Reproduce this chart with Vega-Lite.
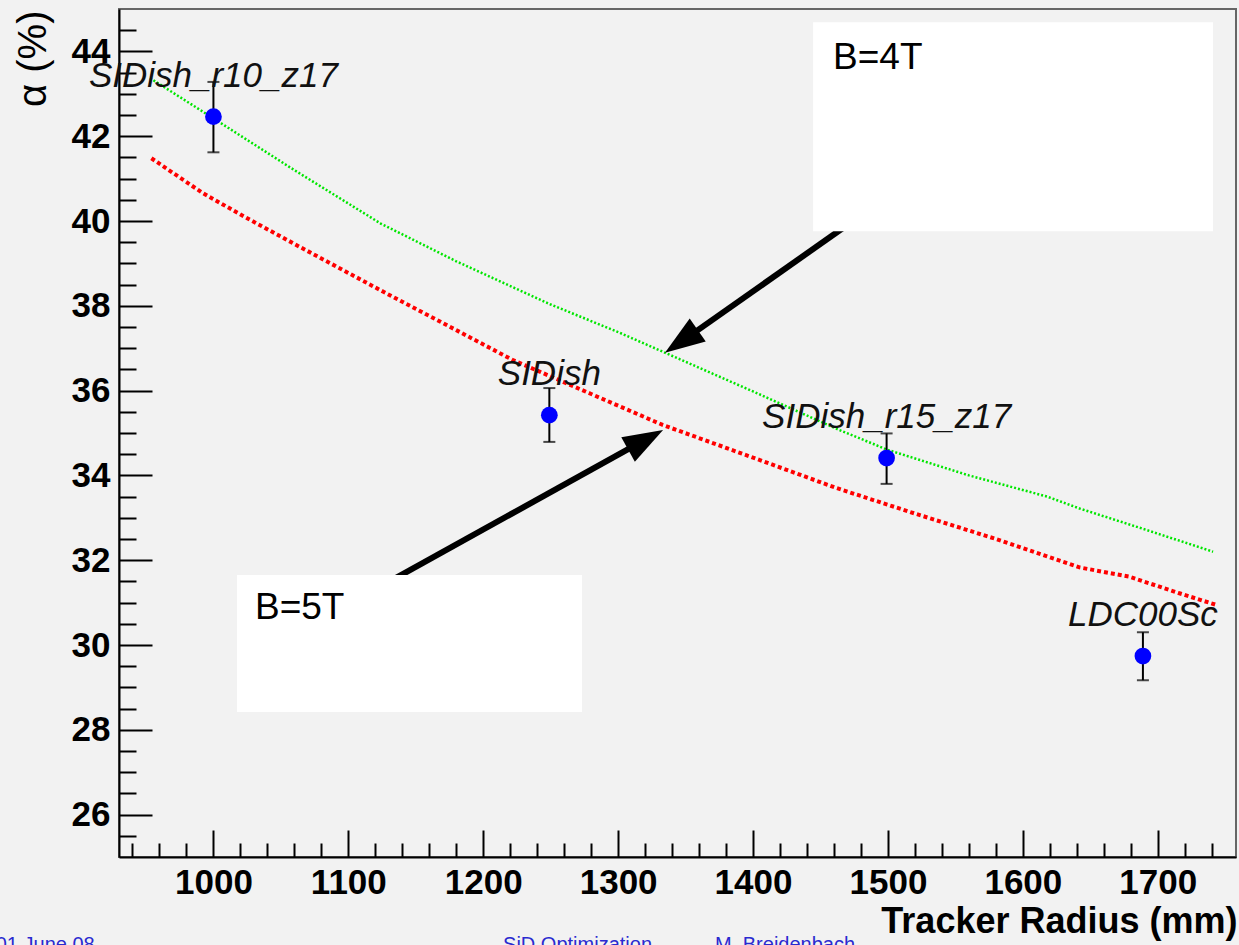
{
  "$schema": "https://vega.github.io/schema/vega-lite/v6.json",
  "autosize": "none",
  "padding": {"left": 119, "top": 9, "right": 3, "bottom": 88},
  "width": 1117,
  "height": 848,
  "background": "#f2f2f2",
  "config": {
    "view": {"stroke": "#666666", "strokeWidth": 2},
    "axis": {"grid": false},
    "font": "Liberation Sans"
  },
  "datasets": {
    "pts": [
      {"name": "SIDish_r10_z17", "r": 1000, "a": 42.46, "lo": 41.62, "hi": 43.28},
      {"name": "SIDish", "r": 1249, "a": 35.42, "lo": 34.79, "hi": 36.06},
      {"name": "SIDish_r15_z17", "r": 1499, "a": 34.41, "lo": 33.8, "hi": 34.99},
      {"name": "LDC00Sc", "r": 1689, "a": 29.74, "lo": 29.17, "hi": 30.3}
    ],
    "green": [
      {"r": 953, "a": 43.37}, {"r": 1000, "a": 42.42}, {"r": 1060, "a": 41.2},
      {"r": 1124, "a": 39.94}, {"r": 1180, "a": 39.05}, {"r": 1250, "a": 38.03},
      {"r": 1300, "a": 37.38}, {"r": 1335, "a": 36.89}, {"r": 1400, "a": 35.98},
      {"r": 1464, "a": 35.07}, {"r": 1500, "a": 34.6}, {"r": 1560, "a": 34.0},
      {"r": 1618, "a": 33.5}, {"r": 1642, "a": 33.22}, {"r": 1692, "a": 32.71},
      {"r": 1741, "a": 32.2}
    ],
    "red": [
      {"r": 954, "a": 41.48}, {"r": 992, "a": 40.66}, {"r": 1023, "a": 40.1},
      {"r": 1064, "a": 39.39}, {"r": 1126, "a": 38.33}, {"r": 1175, "a": 37.51},
      {"r": 1222, "a": 36.72}, {"r": 1280, "a": 35.92}, {"r": 1333, "a": 35.19},
      {"r": 1400, "a": 34.42}, {"r": 1462, "a": 33.7}, {"r": 1520, "a": 33.1},
      {"r": 1580, "a": 32.5}, {"r": 1642, "a": 31.83}, {"r": 1679, "a": 31.61},
      {"r": 1716, "a": 31.22}, {"r": 1744, "a": 30.94}
    ],
    "boxes": [
      {"x1": 1444.5, "x2": 1741, "y1": 44.69, "y2": 39.76},
      {"x1": 1017.5, "x2": 1273.2, "y1": 31.65, "y2": 28.42}
    ],
    "shafts": [
      {"r": 1471.4, "a": 39.94, "r2": 1353, "a2": 37.29},
      {"r": 1132.3, "a": 31.53, "r2": 1313.8, "a2": 34.73}
    ],
    "head1": [{"r": 1334.7, "a": 36.89}],
    "head2": [{"r": 1333.3, "a": 35.07}],
    "btext": [
      {"r": 1459.3, "a": 43.58, "label": "B=4T"},
      {"r": 1030.8, "a": 30.61, "label": "B=5T"}
    ],
    "footL": [{"r": 912, "a": 22.78, "label": "01 June 08"}],
    "footC": [
      {"r": 1214.7, "a": 22.78, "label": "SiD Optimization"},
      {"r": 1371.8, "a": 22.78, "label": "M. Breidenbach"}
    ]
  },
  "resolve": {"axis": {"x": "independent", "y": "independent"}},
  "layer": [
    {
      "data": {"name": "green"},
      "mark": {"type": "line", "color": "#00e600", "strokeWidth": 2.5, "strokeDash": [2, 2]},
      "encoding": {
        "x": {"field": "r", "type": "quantitative", "scale": {"domain": [930, 1758], "nice": false, "zero": false},
          "axis": {"orient": "bottom", "values": [1000, 1100, 1200, 1300, 1400, 1500, 1600, 1700], "labels": false, "title": null, "domain": false, "tickSize": -27, "tickWidth": 2, "tickColor": "black"}},
        "y": {"field": "a", "type": "quantitative", "scale": {"domain": [25, 45], "nice": false, "zero": false},
          "axis": {"orient": "left", "values": [26, 28, 30, 32, 34, 36, 38, 40, 42, 44], "labels": false, "title": null, "domain": false, "tickSize": -33, "tickWidth": 2, "tickColor": "black"}}
      }
    },
    {
      "data": {"name": "red"},
      "mark": {"type": "line", "color": "#ff0000", "strokeWidth": 4, "strokeDash": [4, 3]},
      "encoding": {
        "x": {"field": "r", "type": "quantitative", "scale": {"domain": [930, 1758], "nice": false, "zero": false},
          "axis": {"orient": "bottom", "values": [940, 960, 980, 1020, 1040, 1060, 1080, 1120, 1140, 1160, 1180, 1220, 1240, 1260, 1280, 1320, 1340, 1360, 1380, 1420, 1440, 1460, 1480, 1520, 1540, 1560, 1580, 1620, 1640, 1660, 1680, 1720, 1740], "labels": false, "title": null, "domain": false, "tickSize": -14, "tickWidth": 2, "tickColor": "black"}},
        "y": {"field": "a", "type": "quantitative", "scale": {"domain": [25, 45], "nice": false, "zero": false},
          "axis": {"orient": "left", "values": [25.5, 26.5, 27, 27.5, 28.5, 29, 29.5, 30.5, 31, 31.5, 32.5, 33, 33.5, 34.5, 35, 35.5, 36.5, 37, 37.5, 38.5, 39, 39.5, 40.5, 41, 41.5, 42.5, 43, 43.5, 44.5], "labels": false, "title": null, "domain": false, "tickSize": -17, "tickWidth": 2, "tickColor": "black"}}
      }
    },
    {
      "data": {"name": "pts"},
      "mark": {"type": "errorbar", "ticks": {"size": 12, "thickness": 2, "color": "black"}, "rule": {"strokeWidth": 2, "color": "black"}},
      "encoding": {
        "x": {"field": "r", "type": "quantitative", "scale": {"domain": [930, 1758], "nice": false, "zero": false}, "axis": null},
        "y": {"field": "lo", "type": "quantitative", "scale": {"domain": [25, 45], "nice": false, "zero": false}, "axis": null},
        "y2": {"field": "hi"}
      }
    },
    {
      "data": {"name": "pts"},
      "mark": {"type": "point", "shape": "circle", "filled": true, "color": "#0000ff", "opacity": 1, "size": 280},
      "encoding": {
        "x": {"field": "r", "type": "quantitative", "scale": {"domain": [930, 1758], "nice": false, "zero": false}, "axis": null},
        "y": {"field": "a", "type": "quantitative", "scale": {"domain": [25, 45], "nice": false, "zero": false}, "axis": null}
      }
    },
    {
      "data": {"name": "pts"},
      "mark": {"type": "text", "font": "Liberation Sans", "fontStyle": "italic", "fontSize": 35, "color": "#111111", "align": "center", "baseline": "alphabetic", "dy": -30},
      "encoding": {
        "x": {"field": "r", "type": "quantitative", "scale": {"domain": [930, 1758], "nice": false, "zero": false}, "axis": null},
        "y": {"field": "a", "type": "quantitative", "scale": {"domain": [25, 45], "nice": false, "zero": false}, "axis": null},
        "text": {"field": "name"}
      }
    },
    {
      "data": {"name": "shafts"},
      "mark": {"type": "rule", "color": "black", "strokeWidth": 6, "strokeCap": "butt"},
      "encoding": {
        "x": {"field": "r", "type": "quantitative", "scale": {"domain": [930, 1758], "nice": false, "zero": false}, "axis": null},
        "y": {"field": "a", "type": "quantitative", "scale": {"domain": [25, 45], "nice": false, "zero": false}, "axis": null},
        "x2": {"field": "r2"},
        "y2": {"field": "a2"}
      }
    },
    {
      "data": {"name": "head1"},
      "mark": {"type": "point", "shape": "M0,0L-0.35,1L0.35,1Z", "filled": true, "color": "black", "opacity": 1, "size": 6400, "angle": 235},
      "encoding": {
        "x": {"field": "r", "type": "quantitative", "scale": {"domain": [930, 1758], "nice": false, "zero": false}, "axis": null},
        "y": {"field": "a", "type": "quantitative", "scale": {"domain": [25, 45], "nice": false, "zero": false}, "axis": null}
      }
    },
    {
      "data": {"name": "head2"},
      "mark": {"type": "point", "shape": "M0,0L-0.35,1L0.35,1Z", "filled": true, "color": "black", "opacity": 1, "size": 6400, "angle": 61},
      "encoding": {
        "x": {"field": "r", "type": "quantitative", "scale": {"domain": [930, 1758], "nice": false, "zero": false}, "axis": null},
        "y": {"field": "a", "type": "quantitative", "scale": {"domain": [25, 45], "nice": false, "zero": false}, "axis": null}
      }
    },
    {
      "data": {"name": "boxes"},
      "mark": {"type": "rect", "color": "white", "opacity": 1},
      "encoding": {
        "x": {"field": "x1", "type": "quantitative", "scale": {"domain": [930, 1758], "nice": false, "zero": false},
          "axis": {"orient": "bottom", "values": [1000, 1100, 1200, 1300, 1400, 1500, 1600, 1700], "format": "d", "ticks": false, "domain": true, "domainColor": "black", "domainWidth": 2,
            "labelFont": "Liberation Sans", "labelFontWeight": "bold", "labelFontSize": 35, "labelColor": "black", "labelPadding": 8, "labelBaseline": "top",
            "title": "Tracker Radius (mm)", "titleFont": "Liberation Sans", "titleFontSize": 36, "titleFontWeight": "bold", "titleColor": "black",
            "titleAnchor": "end", "titleAlign": "right", "titleBaseline": "alphabetic", "titleX": 1118, "titleY": 75}},
        "x2": {"field": "x2"},
        "y": {"field": "y1", "type": "quantitative", "scale": {"domain": [25, 45], "nice": false, "zero": false},
          "axis": {"orient": "left", "values": [26, 28, 30, 32, 34, 36, 38, 40, 42, 44], "format": "d", "ticks": false, "domain": true, "domainColor": "black", "domainWidth": 2,
            "labelFont": "Liberation Sans", "labelFontWeight": "bold", "labelFontSize": 35, "labelColor": "black", "labelPadding": 9,
            "title": "α (%)", "titleFont": "Liberation Sans", "titleFontSize": 40, "titleFontWeight": "normal", "titleColor": "black",
            "titleAngle": 270, "titleAlign": "right", "titleBaseline": "middle", "titleX": -86, "titleY": 1}},
        "y2": {"field": "y2"}
      }
    },
    {
      "data": {"name": "btext"},
      "mark": {"type": "text", "font": "Liberation Sans", "fontSize": 37, "color": "black", "align": "left", "baseline": "alphabetic"},
      "encoding": {
        "x": {"field": "r", "type": "quantitative", "scale": {"domain": [930, 1758], "nice": false, "zero": false}, "axis": null},
        "y": {"field": "a", "type": "quantitative", "scale": {"domain": [25, 45], "nice": false, "zero": false}, "axis": null},
        "text": {"field": "label"}
      }
    },
    {
      "data": {"name": "footL"},
      "mark": {"type": "text", "font": "Liberation Sans", "fontSize": 20, "color": "#2a2ad0", "align": "right", "baseline": "alphabetic"},
      "encoding": {
        "x": {"field": "r", "type": "quantitative", "scale": {"domain": [930, 1758], "nice": false, "zero": false}, "axis": null},
        "y": {"field": "a", "type": "quantitative", "scale": {"domain": [25, 45], "nice": false, "zero": false}, "axis": null},
        "text": {"field": "label"}
      }
    },
    {
      "data": {"name": "footC"},
      "mark": {"type": "text", "font": "Liberation Sans", "fontSize": 20, "color": "#2a2ad0", "align": "left", "baseline": "alphabetic"},
      "encoding": {
        "x": {"field": "r", "type": "quantitative", "scale": {"domain": [930, 1758], "nice": false, "zero": false}, "axis": null},
        "y": {"field": "a", "type": "quantitative", "scale": {"domain": [25, 45], "nice": false, "zero": false}, "axis": null},
        "text": {"field": "label"}
      }
    }
  ]
}
